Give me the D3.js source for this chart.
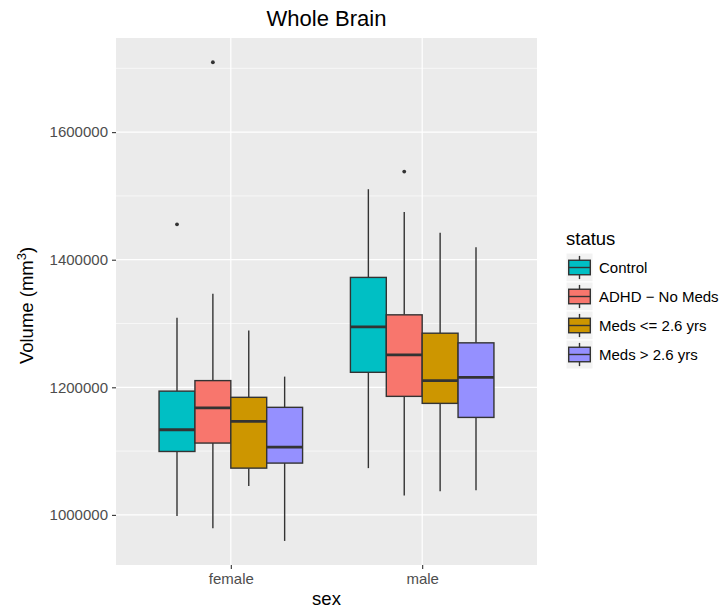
<!DOCTYPE html>
<html>
<head>
<meta charset="utf-8">
<script src="https://cdn.jsdelivr.net/npm/d3@7"></script>
<style>
  body { margin: 0; background: #fff; }
  text { font-family: "Liberation Sans", Arial, Helvetica, sans-serif; }
</style>
</head>
<body>
<div id="chart"></div>
<script>
const sexes = ["female", "male"];
const statuses = ["Control", "ADHD \u2212 No Meds", "Meds <= 2.6 yrs", "Meds > 2.6 yrs"];
const colors = ["#00BFC4", "#F8766D", "#CD9600", "#9590FF"];

// [sex][status]
const whiskerLow = [
    [998400, 979000, 1045100, 959200],
    [1073300, 1030300, 1037200, 1038800]
];
const q1 = [
    [1099400, 1112600, 1073300, 1081200],
    [1223500, 1185800, 1174800, 1152800]
];
const median = [
    [1133500, 1167600, 1146600, 1106300],
    [1294800, 1250800, 1210500, 1215700]
];
const q3 = [
    [1194000, 1210500, 1184300, 1168600],
    [1372250, 1313600, 1284800, 1269700]
];
const whiskerHigh = [
    [1309000, 1346600, 1289000, 1216750],
    [1510500, 1474800, 1442400, 1419400]
];
const outlierSex = ["female", "female", "male"];
const outlierStatus = ["Control", "ADHD \u2212 No Meds", "ADHD \u2212 No Meds"];
const outlierValue = [1455500, 1709500, 1538200];

const yTicks = [1000000, 1200000, 1400000, 1600000];
const yMinor = [1100000, 1300000, 1500000, 1700000];

const width = 721;
const height = 610;
const panel = { left: 116, right: 537, top: 38, bottom: 565 };

const svg = d3.select("#chart")
    .append("svg")
    .attr("width", width)
    .attr("height", height);

const x = d3.scalePoint()
    .domain(sexes)
    .range([panel.left, panel.right])
    .padding(0.6);

const step = x.step();
const xInner = d3.scaleBand()
    .domain(statuses)
    .range([-0.375 * step, 0.375 * step]);

const y = d3.scaleLinear()
    .domain([921450, 1747550])
    .range([panel.bottom, panel.top]);

// panel
svg.append("rect")
    .attr("x", panel.left)
    .attr("y", panel.top)
    .attr("width", panel.right - panel.left)
    .attr("height", panel.bottom - panel.top)
    .attr("fill", "#EBEBEB");

svg.append("g").selectAll("line")
    .data(yMinor)
    .join("line")
    .attr("x1", panel.left).attr("x2", panel.right)
    .attr("y1", d => y(d)).attr("y2", d => y(d))
    .attr("stroke", "#fff").attr("stroke-width", 0.6);

svg.append("g").selectAll("line")
    .data(yTicks)
    .join("line")
    .attr("x1", panel.left).attr("x2", panel.right)
    .attr("y1", d => y(d)).attr("y2", d => y(d))
    .attr("stroke", "#fff").attr("stroke-width", 1.2);

svg.append("g").selectAll("line")
    .data(sexes)
    .join("line")
    .attr("x1", d => x(d)).attr("x2", d => x(d))
    .attr("y1", panel.top).attr("y2", panel.bottom)
    .attr("stroke", "#fff").attr("stroke-width", 1.2);

// boxes
const boxes = [];
sexes.forEach((s, i) => {
    statuses.forEach((st, j) => {
        boxes.push({
            sex: s, status: st, color: colors[j],
            lo: whiskerLow[i][j], q1: q1[i][j], med: median[i][j],
            q3: q3[i][j], hi: whiskerHigh[i][j]
        });
    });
});

const bw = xInner.bandwidth();
const g = svg.append("g").selectAll("g")
    .data(boxes)
    .join("g")
    .attr("transform", d => `translate(${x(d.sex) + xInner(d.status)},0)`);

g.append("line")
    .attr("x1", bw / 2).attr("x2", bw / 2)
    .attr("y1", d => y(d.hi)).attr("y2", d => y(d.q3))
    .attr("stroke", "#333").attr("stroke-width", 1.4);
g.append("line")
    .attr("x1", bw / 2).attr("x2", bw / 2)
    .attr("y1", d => y(d.q1)).attr("y2", d => y(d.lo))
    .attr("stroke", "#333").attr("stroke-width", 1.4);
g.append("rect")
    .attr("x", 0)
    .attr("width", bw)
    .attr("y", d => y(d.q3))
    .attr("height", d => y(d.q1) - y(d.q3))
    .attr("fill", d => d.color)
    .attr("stroke", "#333").attr("stroke-width", 1.4);
g.append("line")
    .attr("x1", 0).attr("x2", bw)
    .attr("y1", d => y(d.med)).attr("y2", d => y(d.med))
    .attr("stroke", "#333").attr("stroke-width", 2.8);

svg.append("g").selectAll("circle")
    .data(outlierValue)
    .join("circle")
    .attr("cx", (d, i) => x(outlierSex[i]) + xInner(outlierStatus[i]) + bw / 2)
    .attr("cy", d => y(d))
    .attr("r", 1.9)
    .attr("fill", "#333");

// axes
const yAxis = svg.append("g")
    .attr("transform", `translate(${panel.left},0)`)
    .call(d3.axisLeft(y).tickValues(yTicks).tickSize(4).tickPadding(4).tickFormat(d3.format("d")));
yAxis.select(".domain").remove();
yAxis.selectAll("line").attr("stroke", "#333").attr("stroke-width", 1.1);
yAxis.selectAll("text").attr("fill", "#4D4D4D").style("font-size", "15px");

const xAxis = svg.append("g")
    .attr("transform", `translate(0,${panel.bottom})`)
    .call(d3.axisBottom(x).tickSize(4).tickPadding(4));
xAxis.select(".domain").remove();
xAxis.selectAll("line").attr("stroke", "#333").attr("stroke-width", 1.1);
xAxis.selectAll("text").attr("fill", "#4D4D4D").style("font-size", "15px");

svg.append("text")
    .attr("x", (panel.left + panel.right) / 2)
    .attr("y", 605)
    .attr("text-anchor", "middle")
    .style("font-size", "18.5px")
    .text("sex");

const yl = svg.append("text")
    .attr("transform", "rotate(-90)")
    .attr("x", -(panel.top + panel.bottom) / 2 - 4)
    .attr("y", 33)
    .attr("text-anchor", "middle")
    .style("font-size", "18.5px");
yl.append("tspan").text("Volume (mm");
yl.append("tspan").attr("dy", -7).style("font-size", "13px").text("3");
yl.append("tspan").attr("dy", 7).text(")");

svg.append("text")
    .attr("x", (panel.left + panel.right) / 2)
    .attr("y", 26)
    .attr("text-anchor", "middle")
    .style("font-size", "22px")
    .text("Whole Brain");

// legend
const legend = svg.append("g").attr("transform", "translate(566,222)");
legend.append("text")
    .attr("x", 0).attr("y", 23)
    .style("font-size", "18.5px")
    .text("status");

const keyW = 27, keyH = 29;
const items = legend.selectAll("g.key")
    .data(statuses)
    .join("g")
    .attr("class", "key")
    .attr("transform", (d, i) => `translate(0,${31 + i * keyH})`);
items.append("rect")
    .attr("width", keyW).attr("height", keyH)
    .attr("fill", "#F2F2F2").attr("stroke", "#fff").attr("stroke-width", 1);
items.append("line")
    .attr("x1", keyW / 2).attr("x2", keyW / 2)
    .attr("y1", keyH * 0.1).attr("y2", keyH * 0.9)
    .attr("stroke", "#333").attr("stroke-width", 1.4);
items.append("rect")
    .attr("x", keyW * 0.1).attr("width", keyW * 0.8)
    .attr("y", keyH * 0.25).attr("height", keyH * 0.5)
    .attr("fill", (d, i) => colors[i])
    .attr("stroke", "#333").attr("stroke-width", 1.4);
items.append("line")
    .attr("x1", keyW * 0.1).attr("x2", keyW * 0.9)
    .attr("y1", keyH / 2).attr("y2", keyH / 2)
    .attr("stroke", "#333").attr("stroke-width", 1.4);
items.append("text")
    .attr("x", 33).attr("y", keyH / 2)
    .attr("dy", "0.35em")
    .style("font-size", "15px")
    .text(d => d);
</script>
</body>
</html>
